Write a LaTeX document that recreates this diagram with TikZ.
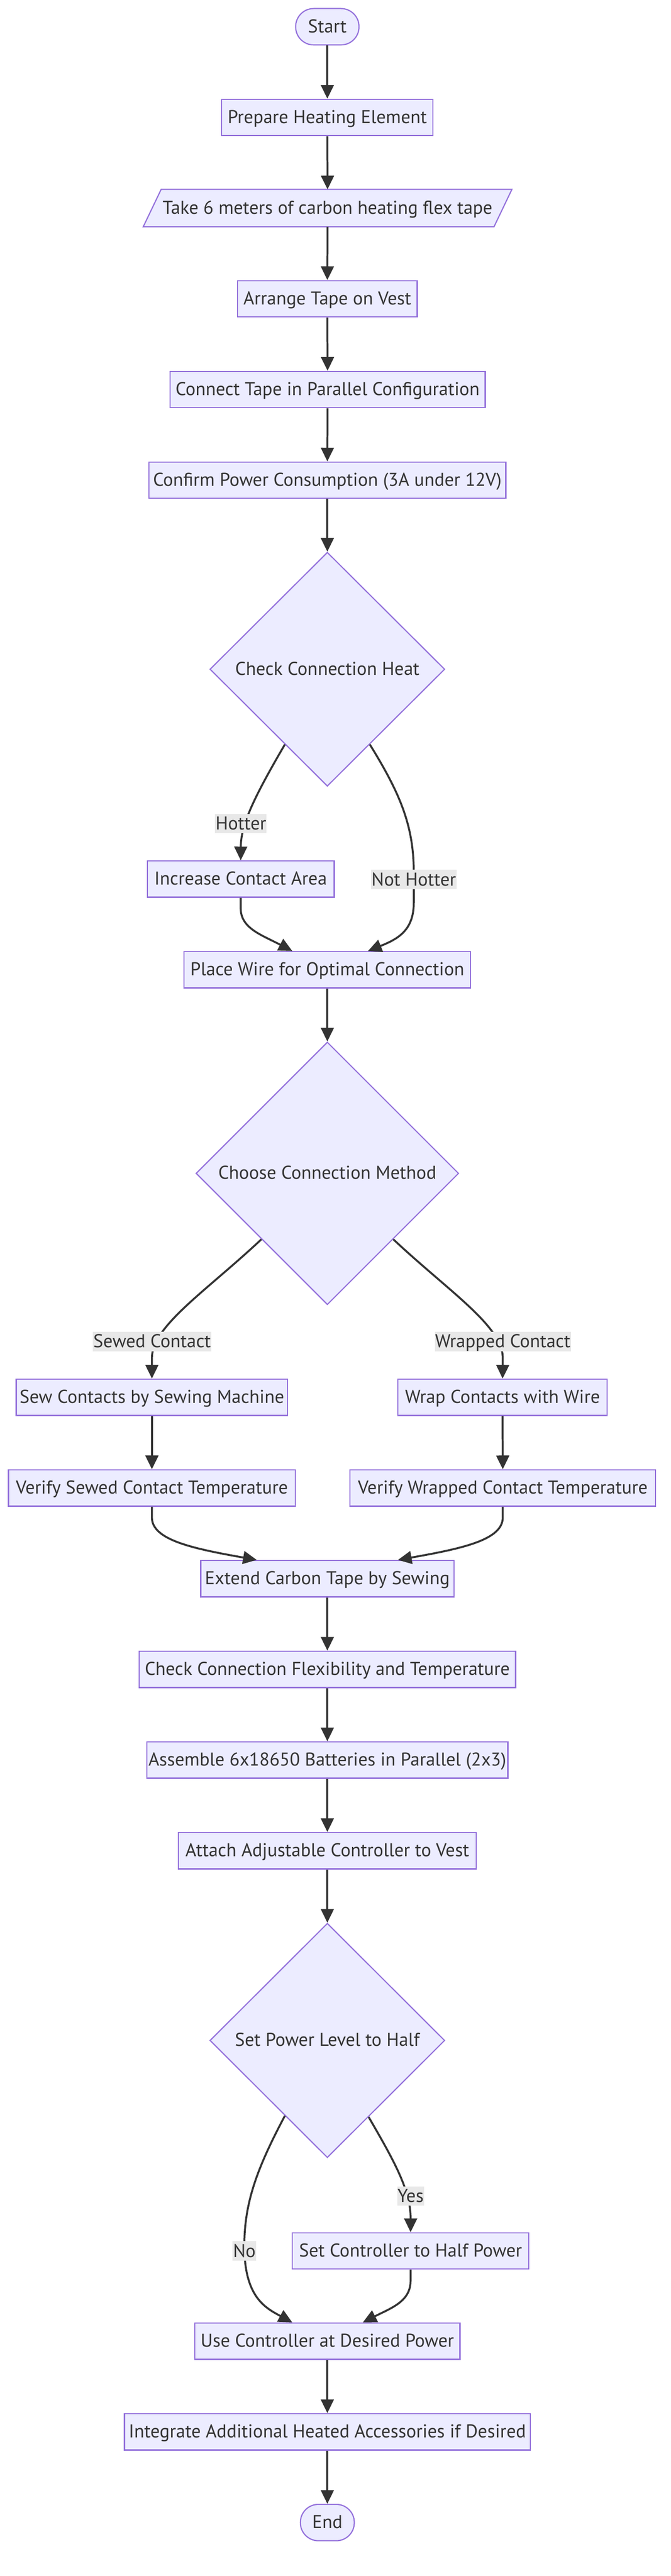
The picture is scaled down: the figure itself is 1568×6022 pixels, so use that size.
\documentclass[tikz,border=0pt]{standalone}
\usepackage{fontspec}
\setmainfont{PT Sans}
\usetikzlibrary{shapes.geometric,arrows.meta,calc,backgrounds}
\definecolor{nodefill}{HTML}{ECECFF}
\definecolor{nodeline}{HTML}{9370DB}
\definecolor{ink}{HTML}{333333}
\definecolor{lblbg}{HTML}{E8E8E8}
\tikzset{
  txt/.style={text=ink, font=\fontsize{43.5pt}{52pt}\selectfont},
  basebox/.style={txt, draw=nodeline, fill=nodefill, line width=2.7pt, inner sep=0pt,
    text height=31pt, text depth=4pt, align=center},
  procbox/.style={basebox, rectangle, minimum height=85pt},
  termbox/.style={basebox, rectangle, rounded corners=42pt, minimum height=85pt},
  decbox/.style={basebox, diamond, aspect=1},
  iobox/.style={txt, rectangle, inner sep=0pt, outer sep=1.35pt, minimum height=85pt,
    text height=31pt, text depth=4pt},
  iofill/.style={draw=nodeline, fill=nodefill, line width=2.7pt},
  elabel/.style={txt, fill=lblbg, inner xsep=1pt, inner ysep=3pt, text height=34pt, text depth=5pt},
  flow/.style={draw=ink, line width=4.5pt, -{Triangle[length=32pt,width=30pt]}}
}
\begin{document}
\begin{tikzpicture}[x=1pt,y=-1pt]
\useasboundingbox (0,0) rectangle (1568,6022);

% nodes
\node[termbox, minimum width=148pt] (start) at (765,62.5) {Start};
\node[procbox, minimum width=494pt] (n1) at (765,274.5) {Prepare Heating Element};
\node[iobox, minimum width=817pt] (n2) at (765.5,486.5) {Take 6 meters of carbon heating flex tape};
\node[procbox, minimum width=420pt] (n3) at (765,698.5) {Arrange Tape on Vest};
\node[procbox, minimum width=737pt] (n4) at (765.5,910.5) {Connect Tape in Parallel Configuration};
\node[procbox, minimum width=834pt] (n5) at (765,1122.5) {Confirm Power Consumption (3A under 12V)};
\node[decbox, minimum width=549pt, minimum height=547pt] (d1) at (765,1564.5) {Check Connection Heat};
\node[procbox, minimum width=437pt] (n6) at (562.5,2055) {Increase Contact Area};
\node[procbox, minimum width=670pt] (n7) at (765,2267) {Place Wire for Optimal Connection};
\node[decbox, minimum width=614pt, minimum height=614pt] (d2) at (765,2743) {Choose Connection Method};
\node[procbox, minimum width=634pt] (n8) at (355,3266.5) {Sew Contacts by Sewing Machine};
\node[procbox, minimum width=489pt] (n9) at (1174.5,3266.5) {Wrap Contacts with Wire};
\node[procbox, minimum width=670pt] (n10) at (355,3478.5) {Verify Sewed Contact Temperature};
\node[procbox, minimum width=714pt] (n11) at (1175,3478.5) {Verify Wrapped Contact Temperature};
\node[procbox, minimum width=592pt] (n12) at (765,3690.5) {Extend Carbon Tape by Sewing};
\node[procbox, minimum width=880pt] (n13) at (765,3902.5) {Check Connection Flexibility and Temperature};
\node[procbox, minimum width=844pt] (n14) at (765,4114.5) {Assemble 6x18650 Batteries in Parallel (2x3)};
\node[procbox, minimum width=696pt] (n15) at (765,4326.5) {Attach Adjustable Controller to Vest};
\node[decbox, minimum width=549pt, minimum height=548pt] (d3) at (765,4770) {Set Power Level to Half};
\node[procbox, minimum width=553pt] (n16) at (959.5,5262) {Set Controller to Half Power};
\node[procbox, minimum width=620pt] (n17) at (765,5473) {Use Controller at Desired Power};
\node[procbox, minimum width=948pt] (n18) at (765,5685) {Integrate Additional Heated Accessories if Desired};
\node[termbox, minimum width=126pt] (end) at (765,5897) {End};

% background: page and the input/output parallelogram
\begin{scope}[on background layer]
  \fill[white] (0,0) rectangle (1568,6022);
  \draw[iofill] ([xshift=-21pt]n2.south west) -- ([xshift=21pt]n2.north west)
     -- ([xshift=21pt]n2.north east) -- ([xshift=-21pt]n2.south east) -- cycle;
\end{scope}

% straight connectors
\draw[flow] (start.south) -- (n1.north);
\draw[flow] (n1.south) -- (n2.north);
\draw[flow] (n2.south) -- (n3.north);
\draw[flow] (n3.south) -- (n4.north);
\draw[flow] (n4.south) -- (n5.north);
\draw[flow] (n5.south) -- (d1.north);
\draw[flow] (n7.south) -- (d2.north);
\draw[flow] (n8.south) -- (n10.north);
\draw[flow] (n9.south) -- (n11.north);
\draw[flow] (n12.south) -- (n13.north);
\draw[flow] (n13.south) -- (n14.north);
\draw[flow] (n14.south) -- (n15.north);
\draw[flow] (n15.south) -- (d3.north);
\draw[flow] (n17.south) -- (n18.north);
\draw[flow] (n18.south) -- (end.north);

% curved connectors
\draw[flow] ($(d1.west)!0.64!(d1.south)$) .. controls (590,1870) and (563,1930) .. (n6.north);
\draw[flow] ($(d1.east)!0.64!(d1.south)$) .. controls (935,1855) and (967,1930) .. (967,2040)
   -- (967,2110) .. controls (967,2175) and (930,2195) .. ([xshift=95pt]n7.north);
\draw[flow] (n6.south) -- ++(0,25) .. controls (563,2170) and (610,2185) .. ([xshift=-82pt]n7.north);

\draw[flow] (d2.south west) .. controls (480,3020) and (355,3100) .. (355,3175) -- (n8.north);
\draw[flow] (d2.south east) .. controls (1050,3020) and (1175,3100) .. (1175,3175) -- (n9.north);

\draw[flow] (n10.south) -- ++(0,25) .. controls (355,3600) and (450,3620) .. ([xshift=-165pt]n12.north);
\draw[flow] (n11.south) -- ++(0,25) .. controls (1175,3600) and (1080,3620) .. ([xshift=165pt]n12.north);

\draw[flow] ($(d3.east)!0.65!(d3.south)$) .. controls (920,5050) and (960,5120) .. (n16.north);
\draw[flow] ($(d3.west)!0.64!(d3.south)$) .. controls (600,5070) and (571,5150) .. (571,5250)
   .. controls (571,5370) and (620,5395) .. ([xshift=-82pt]n17.north);
\draw[flow] (n16.south) -- ++(0,25) .. controls (960,5380) and (915,5395) .. ([xshift=83pt]n17.north);

% edge labels
\node[elabel] (lHot) at (563,1925.5) {Hotter};
\node[elabel] (lNot) at (967,2056) {Not Hotter};
\node[elabel] (lSew) at (355.5,3136) {Sewed Contact};
\node[elabel] (lWrap) at (1175,3136) {Wrapped Contact};
\node[elabel] (lYes) at (959.5,5134) {Yes};
\node[elabel] (lNo) at (571,5262) {No};
\end{tikzpicture}
\end{document}
